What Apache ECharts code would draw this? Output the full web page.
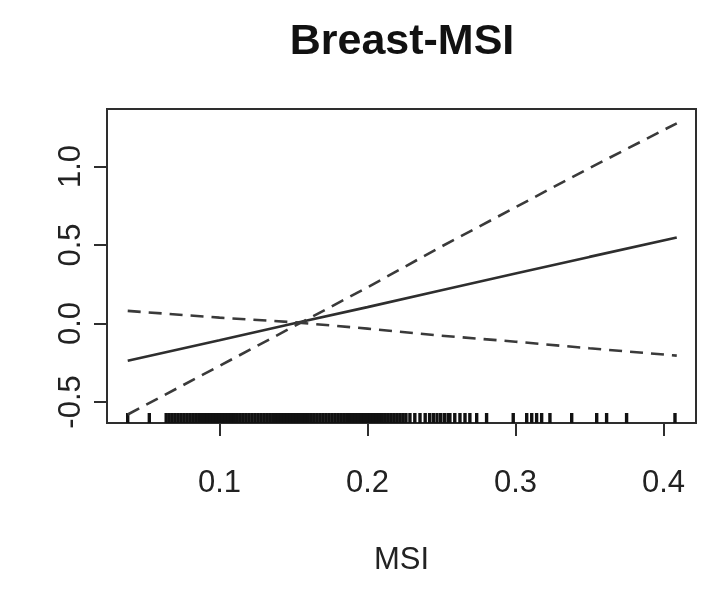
<!DOCTYPE html>
<html>
<head>
<meta charset="utf-8">
<script src="https://cdn.jsdelivr.net/npm/echarts@6/dist/echarts.min.js"></script>
<style>
html,body{margin:0;padding:0;background:#fff;}
#chart{width:708px;height:589px;}
</style>
</head>
<body>
<div id="chart"></div>
<script>
// ---- data ----
var titleText = 'Breast-MSI';
var xName = 'MSI';
var xTicks = [0.1, 0.2, 0.3, 0.4];
var yTicks = [-0.5, 0.0, 0.5, 1.0];
var xMin = 0.024, xMax = 0.422;
var yMin = -0.634, yMax = 1.366;

var fitX = [0.038, 0.1, 0.15, 0.2, 0.25, 0.3, 0.35, 0.409];
var fitMain  = [-0.237, -0.107, 0.0, 0.104, 0.212, 0.318, 0.424, 0.547];
var fitUpper = [-0.58, -0.27, -0.02, 0.23, 0.49, 0.74, 0.99, 1.275];
var fitLower = [0.080, 0.037, 0.008, -0.033, -0.078, -0.116, -0.158, -0.205];

var rugX = [0.038, 0.0526,
  0.064,0.066,0.068,0.070,0.072,0.074,0.076,0.078,0.080,0.082,0.084,0.086,0.088,0.090,
  0.092,0.094,0.096,0.098,0.100,0.102,0.104,0.106,0.108,0.110,0.112,0.114,0.116,0.118,
  0.120,0.122,0.124,0.126,0.128,0.130,0.132,0.134,0.136,0.138,0.140,0.142,0.144,0.146,
  0.148,0.150,0.152,0.154,0.156,0.158,0.160,0.162,0.164,0.166,0.168,0.170,0.172,0.174,
  0.176,0.178,0.180,0.182,0.184,0.186,0.188,0.190,0.192,0.194,0.196,0.198,0.200,0.202,
  0.204,0.206,0.208,0.210,0.212,0.214,0.216,0.218,0.220,0.222,0.224,0.226,
  0.2287,0.232,0.2355,0.239,0.242,0.2445,0.247,0.2495,0.252,0.2545,0.2557,
  0.259,0.2625,0.2659,0.2692,0.2738,0.2805,
  0.2985,0.3076,0.311,0.3143,0.3177,0.3233,0.338,0.3549,0.3616,0.3751,0.4078];

function pairs(xs, ys){ return xs.map(function(x,i){ return [x, ys[i]]; }); }

var ink = '#2e2e2e';
var font = '"Liberation Sans", Arial, sans-serif';

var chart = echarts.init(document.getElementById('chart'), null, {renderer:'canvas'});
chart.setOption({
  animation: false,
  backgroundColor: '#fff',
  title: {
    text: titleText,
    left: 397, top: 16, textAlign: 'center',
    textStyle: {fontFamily: font, fontSize: 43, fontWeight: 'bold', color: '#111'}
  },
  grid: {left: 107, top: 109, right: 12, bottom: 166, show: true,
         borderColor: ink, borderWidth: 2, backgroundColor: 'transparent'},
  xAxis: {
    type: 'value', min: xMin, max: xMax,
    name: xName, nameLocation: 'middle', nameGap: 122,
    nameTextStyle: {fontFamily: font, fontSize: 31, color: '#222'},
    axisLine: {show: true, onZero: false, lineStyle: {color: ink, width: 2}},
    axisTick: {show: true, customValues: xTicks, length: 13, lineStyle: {color: ink, width: 2}},
    axisLabel: {customValues: xTicks, margin: 45, fontFamily: font, fontSize: 31, color: '#222',
                formatter: function(v){ return v.toFixed(1); }},
    splitLine: {show: false}
  },
  yAxis: {
    type: 'value', min: yMin, max: yMax,
    axisLine: {show: true, onZero: false, lineStyle: {color: ink, width: 2}},
    axisTick: {show: true, customValues: yTicks, length: 13, lineStyle: {color: ink, width: 2}},
    axisLabel: {customValues: yTicks, rotate: 90, margin: 20, fontFamily: font, fontSize: 31, color: '#222',
                formatter: function(v){ return v.toFixed(1); }},
    splitLine: {show: false}
  },
  series: [
    {type: 'line', data: pairs(fitX, fitMain), symbol: 'none',
     lineStyle: {color: ink, width: 2.6, type: 'solid'}},
    {type: 'line', data: pairs(fitX, fitUpper), symbol: 'none',
     lineStyle: {color: '#3a3a3a', width: 2.6, type: [13, 8]}},
    {type: 'line', data: pairs(fitX, fitLower), symbol: 'none',
     lineStyle: {color: '#3a3a3a', width: 2.6, type: [13, 8]}},
    {type: 'custom', data: rugX.map(function(x){ return [x]; }),
     renderItem: function(params, api){
       var p = api.coord([api.value(0), yMin]);
       return {type: 'line', shape: {x1: p[0], y1: p[1], x2: p[0], y2: p[1] - 10},
               style: {stroke: '#111', lineWidth: 3.4}};
     }}
  ]
});
</script>
</body>
</html>
